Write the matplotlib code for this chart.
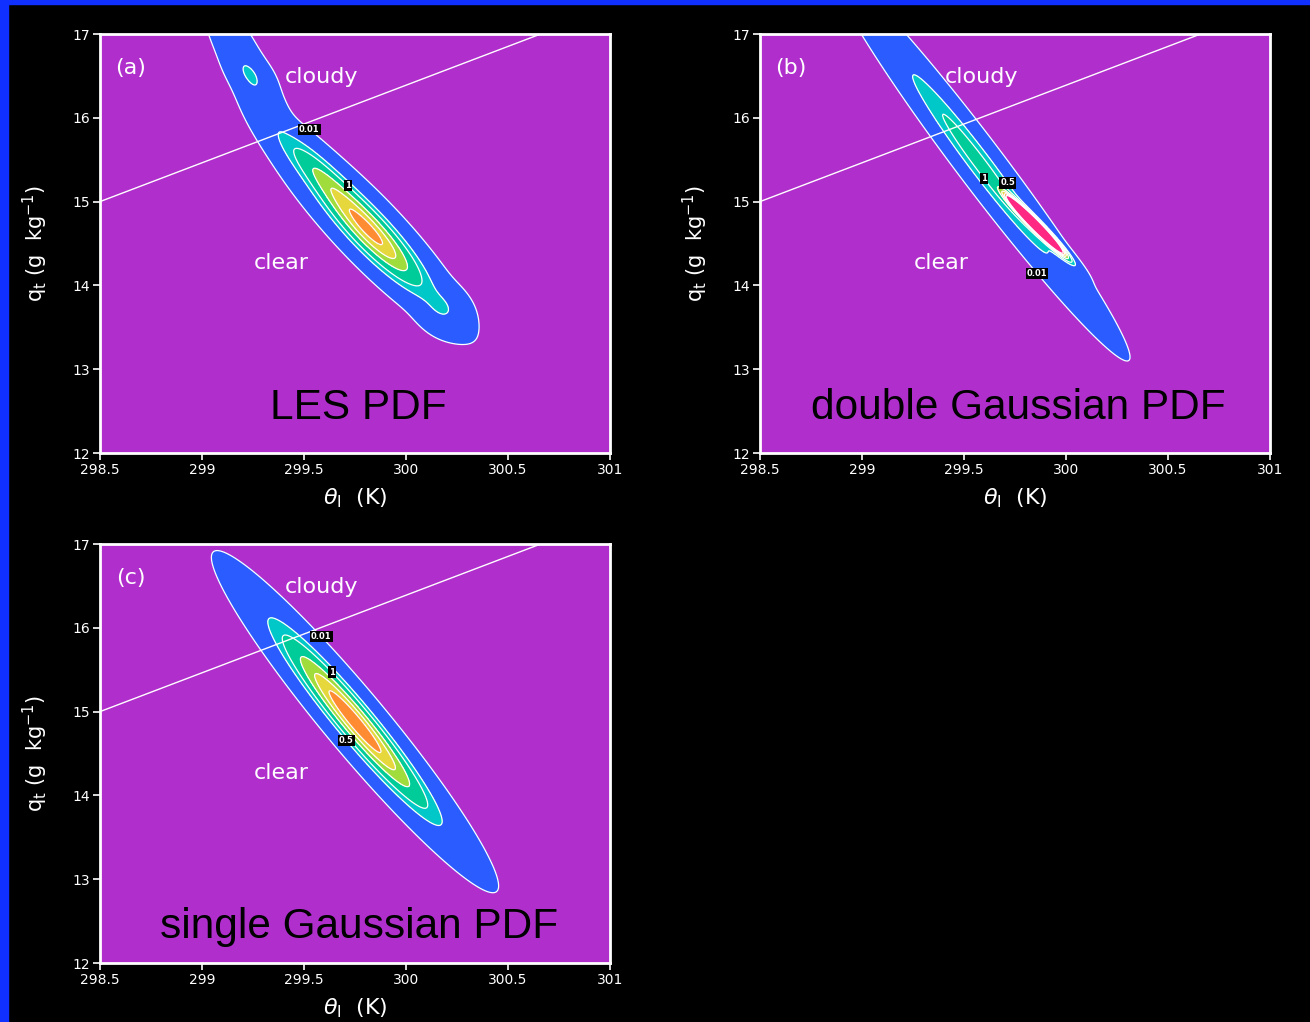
import numpy as np
import matplotlib
matplotlib.use("Agg")
import matplotlib.pyplot as plt
from matplotlib.colors import ListedColormap, BoundaryNorm
from matplotlib.patches import Rectangle

# ---------------- data ----------------
theta_ticks = [298.5, 299, 299.5, 300, 300.5, 301]
theta_ticklabels = ['298.5', '299', '299.5', '300', '300.5', '301']
qt_ticks = [12, 13, 14, 15, 16, 17]
levels = [0.01, 0.5, 1.0, 2.0, 3.0, 4.0, 5.0, 1000.0]
band_colors = ['#2B5CFF', '#00C8C8', '#00CC99', '#A0DC3C', '#E6D83C', '#FF8C32', '#FF2882']
label_levels = [[0.01, 1.0], [0.01, 0.5, 1.0], [0.01, 0.5, 1.0]]

# saturation line separating cloudy from clear
sat_theta = [298.5, 300.66]
sat_qt = [15.0, 17.0]

# Gaussian components: weight, mean theta, mean qt, sigma theta, sigma qt, correlation
les_w = [0.68, 0.14, 0.045, 0.02, 0.008]
les_mt = [299.82, 299.58, 299.25, 300.18, 299.24]
les_mq = [14.65, 15.32, 16.42, 13.72, 16.52]
les_st = [0.15, 0.12, 0.10, 0.06, 0.05]
les_sq = [0.38, 0.30, 0.45, 0.14, 0.12]
les_r = [-0.90, -0.90, -0.90, -0.30, -0.50]

dbl_w = [0.30, 0.70]
dbl_mt = [299.58, 299.85]
dbl_mq = [15.45, 14.72]
dbl_st = [0.234, 0.065]
dbl_sq = [0.75, 0.16]
dbl_r = [-0.98, -0.97]

sgl_w = [1.0]
sgl_mt = [299.75]
sgl_mq = [14.88]
sgl_st = [0.20]
sgl_sq = [0.58]
sgl_r = [-0.96]

panel_tags = ['(a)', '(b)', '(c)']
panel_titles = ['LES PDF', 'double Gaussian PDF', 'single Gaussian PDF']


def mixture(T, Q, w, mt, mq, st, sq, r):
    Z = np.zeros_like(T)
    for wi, a, b, sa, sb, ri in zip(w, mt, mq, st, sq, r):
        x = (T - a) / sa
        y = (Q - b) / sb
        e = (x * x - 2 * ri * x * y + y * y) / (1 - ri * ri)
        Z += wi / (2 * np.pi * sa * sb * np.sqrt(1 - ri * ri)) * np.exp(-0.5 * e)
    return Z


tg = np.linspace(298.5, 301, 600)
qg = np.linspace(12, 17, 600)
T, Q = np.meshgrid(tg, qg)
fields = [
    mixture(T, Q, les_w, les_mt, les_mq, les_st, les_sq, les_r),
    mixture(T, Q, dbl_w, dbl_mt, dbl_mq, dbl_st, dbl_sq, dbl_r),
    mixture(T, Q, sgl_w, sgl_mt, sgl_mq, sgl_st, sgl_sq, sgl_r),
]

# ---------------- figure ----------------
W, H = 1310, 1022
fig = plt.figure(figsize=(W / 100, H / 100), dpi=100, facecolor='black')
fig.patches.append(Rectangle((0, 0), 8 / W, 1, transform=fig.transFigure,
                             color='#1030FF', zorder=0))
fig.patches.append(Rectangle((0, 1 - 4 / H), 1, 4 / H, transform=fig.transFigure,
                             color='#1030FF', zorder=0))

boxes = [(100, 34), (760, 34), (100, 544)]
title_y = [0.107, 0.107, 0.086]
cmap = ListedColormap(band_colors)
norm = BoundaryNorm(levels, cmap.N)

for i, (x0, y0) in enumerate(boxes):
    ax = fig.add_axes([x0 / W, 1 - (y0 + 419) / H, 510 / W, 419 / H])
    ax.set_facecolor('#B02ECC')
    ax.contourf(T, Q, fields[i], levels=levels, cmap=cmap, norm=norm)
    cs = ax.contour(T, Q, fields[i], levels=levels[:-1], colors='white', linewidths=0.9)
    labs = ax.clabel(cs, levels=label_levels[i], fontsize=6, inline=False,
                     fmt=lambda v: f'{v:g}', colors='white')
    for t in labs:
        t.set_bbox(dict(facecolor='black', edgecolor='none', pad=0.8))
        t.set_fontweight('bold')
        t.set_rotation(0)
    ax.plot(sat_theta, sat_qt, color='white', lw=1.0)
    ax.set_xlim(298.5, 301)
    ax.set_ylim(12, 17)
    ax.set_xticks(theta_ticks)
    ax.set_xticklabels(theta_ticklabels)
    ax.set_yticks(qt_ticks)
    for s in ax.spines.values():
        s.set_color('white')
        s.set_linewidth(2)
    ax.tick_params(colors='white', labelcolor='white', direction='out', length=5,
                   width=1.2, labelsize=10, pad=2)
    ax.set_xlabel(r'$\theta_{\rm l}$  (K)', color='white', fontsize=16, labelpad=7)
    ax.set_ylabel(r'q$_{\rm t}$ (g  kg$^{-1}$)', color='white', fontsize=15, labelpad=16)
    ax.text(0.06, 0.92, panel_tags[i], transform=ax.transAxes, color='white',
            fontsize=16, ha='center', va='center')
    ax.text(0.435, 0.897, 'cloudy', transform=ax.transAxes, color='white',
            fontsize=16, ha='center', va='center')
    ax.text(0.355, 0.453, 'clear', transform=ax.transAxes, color='white',
            fontsize=16, ha='center', va='center')
    ax.text(0.507, title_y[i], panel_titles[i], transform=ax.transAxes, color='black',
            fontsize=30.5, ha='center', va='center', family='Liberation Sans')

fig.savefig('out.png', dpi=100, facecolor='black')
